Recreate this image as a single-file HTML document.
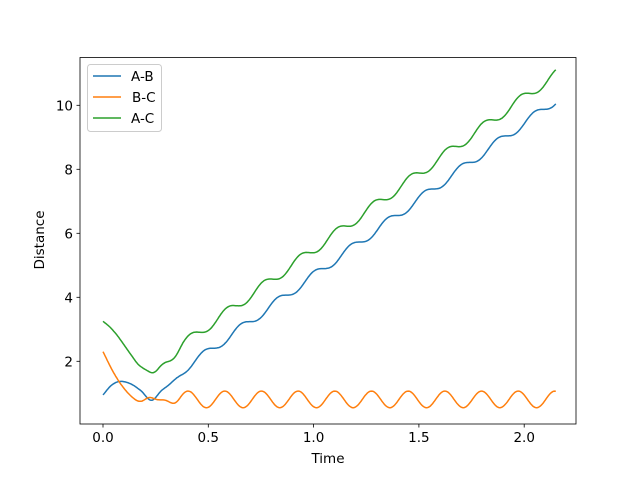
<!DOCTYPE html><html><head><style>body{margin:0;background:#fff}svg{font-family:"DejaVu Sans","Liberation Sans",sans-serif}</style></head><body>
<svg id="s" width="640" height="476" xmlns="http://www.w3.org/2000/svg">
<rect x="0" y="0" width="640" height="476" fill="#fff"/>
<g id="lines" fill="none" stroke-width="1.5"></g>
<rect x="80" y="57.5" width="496" height="366.5" fill="none" stroke="#000" stroke-width="0.8"/>
<g font-size="13.5" fill="#000" id="ticks"></g>
<text x="328" y="463" font-size="13.5" text-anchor="middle">Time</text>
<text x="0" y="0" font-size="13.5" text-anchor="middle" transform="translate(44,240) rotate(-90)">Distance</text>
<rect x="87.5" y="64.5" width="74" height="67" rx="3" fill="#fff" stroke="#ccc" fill-opacity="0.8"/>
<line x1="93" y1="76" x2="121" y2="76" stroke="#1f77b4" stroke-width="1.5"/>
<line x1="93" y1="97" x2="121" y2="97" stroke="#ff7f0e" stroke-width="1.5"/>
<line x1="93" y1="118" x2="121" y2="118" stroke="#2ca02c" stroke-width="1.5"/>
<g font-size="13.5"><text x="131" y="81">A-B</text><text x="132" y="102">B-C</text><text x="131" y="123">A-C</text></g>
</svg>
<script>
const X=t=>103+210.6*t,Y=v=>425.3-32*v;
function interp(p,t){const n=p.length;if(t>=p[n-1][0])return p[n-1][1];for(let i=0;i<n-1;i++){if(t<=p[i+1][0]){const a=p[Math.max(0,i-1)],b=p[i],c=p[i+1],d=p[Math.min(n-1,i+2)];const h=c[0]-b[0],u=(t-b[0])/h;
const m1=(c[1]-a[1])/(c[0]-a[0])*h,m2=(d[1]-b[1])/(d[0]-b[0])*h;const u2=u*u,u3=u2*u;
return (2*u3-3*u2+1)*b[1]+(u3-2*u2+u)*m1+(-2*u3+3*u2)*c[1]+(u3-u2)*m2;}}}
const bE=[[0,0.95],[0.04,1.25],[0.08,1.37],[0.13,1.3],[0.18,1.08],[0.23,0.78],[0.28,1.1],[0.35,1.42],[0.45,1.95]];
const oE=[[0,2.3],[0.05,1.65],[0.1,1.15],[0.15,0.82],[0.18,0.75],[0.22,0.87],[0.26,0.8],[0.32,0.8],[0.5,0.8]];
const ss=(a,b,t)=>{let u=Math.min(1,Math.max(0,(t-a)/(b-a)));return u*u*(3-2*u)};
const P=0.1742,T0=0.523,B=4.76,C=B*P/(2*Math.PI);
function blue(t){const f=2.41+B*(t-T0)-C*Math.sin(2*Math.PI*(t-T0)/P);const w=ss(0.3,0.42,t);return (1-w)*interp(bE,t)+w*f;}
function orange(t){const f=0.81-0.26*Math.cos(2*Math.PI*(t-0.491)/P);const w=ss(0.28,0.38,t);return (1-w)*interp(oE,t)+w*f;}
let pb="",po="",pg="";
for(let i=0;i<=430;i++){const t=i*2.15/430,c=i?"L":"M";const b=blue(t),o=orange(t);
pb+=c+X(t).toFixed(1)+","+Y(b).toFixed(1);po+=c+X(t).toFixed(1)+","+Y(o).toFixed(1);pg+=c+X(t).toFixed(1)+","+Y(b+o).toFixed(1);}
document.getElementById("lines").innerHTML=`<path d="${pb}" stroke="#1f77b4"/><path d="${po}" stroke="#ff7f0e"/><path d="${pg}" stroke="#2ca02c"/>`;
let h="";
[0,0.5,1,1.5,2].forEach(v=>{const x=X(v);h+=`<line x1="${x}" y1="424" x2="${x}" y2="427.5" stroke="#000" stroke-width="0.8"/><text x="${x}" y="442" text-anchor="middle">${v.toFixed(1)}</text>`});
[2,4,6,8,10].forEach(v=>{const y=Y(v);h+=`<line x1="76.5" y1="${y}" x2="80" y2="${y}" stroke="#000" stroke-width="0.8"/><text x="73" y="${y+5}" text-anchor="end">${v}</text>`});
document.getElementById("ticks").innerHTML=h;
</script>
</body></html>
